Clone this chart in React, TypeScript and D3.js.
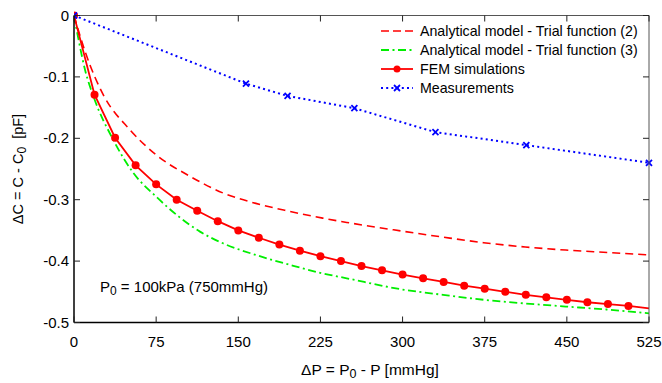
import React from "react";
import * as d3 from "d3";

const xTicks = [0, 75, 150, 225, 300, 375, 450, 525];
const yTicks = [0, -0.1, -0.2, -0.3, -0.4, -0.5];
const yTickLabels = ["0", "-0.1", "-0.2", "-0.3", "-0.4", "-0.5"];

// Analytical model - Trial function (2)
const trial2X = [0, 5, 10, 19, 27, 51, 75, 106, 136, 166, 197, 227, 249, 299, 337, 374, 412, 449, 487, 525];
const trial2Y = [0, -0.03, -0.058, -0.1, -0.13, -0.186, -0.227, -0.262, -0.289, -0.306, -0.319, -0.33, -0.337, -0.351, -0.361, -0.37, -0.377, -0.382, -0.386, -0.39];

// Analytical model - Trial function (3)
const trial3X = [0, 5, 10, 18, 36, 54, 75, 96, 115, 136, 166, 197, 227, 249, 299, 337, 374, 412, 449, 487, 525];
const trial3Y = [0, -0.047, -0.088, -0.133, -0.203, -0.256, -0.295, -0.328, -0.352, -0.371, -0.39, -0.406, -0.42, -0.428, -0.446, -0.455, -0.463, -0.469, -0.474, -0.479, -0.485];

// FEM simulations (markers at 18.75 mmHg steps)
const femX = [0, 18.75, 37.5, 56.25, 75, 93.75, 112.5, 131.25, 150, 168.75, 187.5, 206.25, 225, 243.75, 262.5, 281.25, 300, 318.75, 337.5, 356.25, 375, 393.75, 412.5, 431.25, 450, 468.75, 487.5, 506.25];
const femY = [0, -0.129, -0.199, -0.244, -0.275, -0.3, -0.318, -0.335, -0.35, -0.362, -0.373, -0.383, -0.392, -0.4, -0.408, -0.415, -0.422, -0.428, -0.434, -0.44, -0.445, -0.45, -0.455, -0.459, -0.463, -0.467, -0.47, -0.473];
const femEndX = 525;
const femEndY = -0.477;

// Measurements
const measX = [0, 157, 195, 256, 330, 413, 525];
const measY = [0, -0.111, -0.131, -0.151, -0.19, -0.211, -0.24];

const legendLabels = [
  "Analytical model - Trial function (2)",
  "Analytical model - Trial function (3)",
  "FEM simulations",
  "Measurements",
];

const W = 662;
const H = 383;
const left = 74;
const right = 649;
const top = 15.5;
const bottom = 322.5;
const FONT = "'Liberation Sans', Arial, Helvetica, sans-serif";

export default function App() {
  const x = d3.scaleLinear().domain([0, 525]).range([left, right]);
  const y = d3.scaleLinear().domain([-0.5, 0]).range([bottom, top]);

  const line = d3
    .line<[number, number]>()
    .x((d) => x(d[0]))
    .y((d) => y(d[1]))
    .curve(d3.curveMonotoneX);
  const lineStraight = d3
    .line<[number, number]>()
    .x((d) => x(d[0]))
    .y((d) => y(d[1]));

  const t2 = trial2X.map((v, i) => [v, trial2Y[i]] as [number, number]);
  const t3 = trial3X.map((v, i) => [v, trial3Y[i]] as [number, number]);
  const fem = femX.map((v, i) => [v, femY[i]] as [number, number]);
  const femLine = [...fem, [femEndX, femEndY] as [number, number]];
  const meas = measX.map((v, i) => [v, measY[i]] as [number, number]);

  const tickLen = 6;
  const red = "#ff0000";
  const green = "#00ee00";
  const blue = "#0000ff";

  const legX1 = 381;
  const legX2 = 413;
  const legTextX = 420;
  const legRows = [31, 50, 69, 88];

  return (
    <svg
      width={W}
      height={H}
      style={{ position: "absolute", left: 0, top: 0, background: "#fff" }}
      fontFamily={FONT}
    >
      <rect x={0} y={0} width={W} height={H} fill="#fff" />
      <defs>
        <clipPath id="plotclip">
          <rect x={left} y={top - 6} width={right - left + 6} height={bottom - top + 6} />
        </clipPath>
      </defs>

      {/* data */}
      <g clipPath="url(#plotclip)">
        <path d={line(t3) || ""} fill="none" stroke={green} strokeWidth={1.8} strokeDasharray="8,3.5,2,3.5" />
        <path d={line(t2) || ""} fill="none" stroke={red} strokeWidth={1.6} strokeDasharray="8,5" />
        <path d={lineStraight(femLine) || ""} fill="none" stroke={red} strokeWidth={1.8} />
        {fem.map((d, i) => (
          <circle key={i} cx={x(d[0])} cy={y(d[1])} r={4} fill={red} />
        ))}
        <path d={lineStraight(meas) || ""} fill="none" stroke={blue} strokeWidth={2} strokeDasharray="2,3.2" />
        {meas.map((d, i) => {
          const cx = x(d[0]);
          const cy = y(d[1]);
          const s = 3;
          return (
            <g key={i} stroke={blue} strokeWidth={1.8}>
              <line x1={cx - s} y1={cy - s} x2={cx + s} y2={cy + s} />
              <line x1={cx - s} y1={cy + s} x2={cx + s} y2={cy - s} />
            </g>
          );
        })}
      </g>

      {/* axes box */}
      <g stroke="#222" strokeWidth={1} fill="none">
        <line x1={left} y1={top} x2={right} y2={top} stroke="#555" />
        <line x1={right} y1={top} x2={right} y2={bottom} stroke="#555" />
        <line x1={left} y1={bottom} x2={right} y2={bottom} stroke="#000" strokeWidth={1.5} />
        <line x1={left} y1={top} x2={left} y2={bottom} stroke="#000" strokeWidth={1.5} />
        {xTicks.map((t, i) => (
          <g key={i}>
            <line x1={x(t)} x2={x(t)} y1={bottom} y2={bottom - tickLen} />
            <line x1={x(t)} x2={x(t)} y1={top} y2={top + tickLen} />
          </g>
        ))}
        {yTicks.map((t, i) => (
          <g key={i}>
            <line x1={left} x2={left + tickLen} y1={y(t)} y2={y(t)} />
            <line x1={right} x2={right - tickLen} y1={y(t)} y2={y(t)} />
          </g>
        ))}
      </g>

      {/* tick labels */}
      <g fontSize={15} fill="#000">
        {xTicks.map((t, i) => (
          <text key={i} x={x(t)} y={347} textAnchor="middle">
            {String(t)}
          </text>
        ))}
        {yTicks.map((t, i) => (
          <text key={i} x={69} y={y(t) + 5} textAnchor="end">
            {yTickLabels[i]}
          </text>
        ))}
      </g>

      {/* axis titles */}
      <text x={370} y={375} fontSize={15.5} textAnchor="middle" fill="#000">
        ΔP = P<tspan fontSize={12.5} dy={3}>0</tspan>
        <tspan dy={-3}> - P [mmHg]</tspan>
      </text>
      <text
        transform={`translate(23, ${(top + bottom) / 2}) rotate(-90)`}
        fontSize={14.5}
        textAnchor="middle"
        fill="#000"
      >
        ΔC = C - C<tspan fontSize={12} dy={3}>0</tspan>
        <tspan dy={-3} xmlSpace="preserve">  [pF]</tspan>
      </text>

      {/* annotation */}
      <text x={100} y={292} fontSize={15} fill="#000">
        P<tspan fontSize={12} dy={3}>0</tspan>
        <tspan dy={-3}> = 100kPa (750mmHg)</tspan>
      </text>

      {/* legend */}
      <g fontSize={14.2} fill="#000">
        <line x1={legX1} x2={legX2} y1={legRows[0]} y2={legRows[0]} stroke={red} strokeWidth={1.6} strokeDasharray="8,4" />
        <line x1={legX1} x2={legX2} y1={legRows[1]} y2={legRows[1]} stroke={green} strokeWidth={1.8} strokeDasharray="8,3.5,2,3.5" />
        <line x1={legX1} x2={legX2} y1={legRows[2]} y2={legRows[2]} stroke={red} strokeWidth={1.8} />
        <circle cx={(legX1 + legX2) / 2} cy={legRows[2]} r={3.5} fill={red} />
        <line x1={legX1} x2={legX2} y1={legRows[3]} y2={legRows[3]} stroke={blue} strokeWidth={2} strokeDasharray="2,3.2" />
        <g stroke={blue} strokeWidth={1.8}>
          <line x1={397 - 3} y1={legRows[3] - 3} x2={397 + 3} y2={legRows[3] + 3} />
          <line x1={397 - 3} y1={legRows[3] + 3} x2={397 + 3} y2={legRows[3] - 3} />
        </g>
        {legendLabels.map((l, i) => (
          <text key={i} x={legTextX} y={legRows[i] + 5}>
            {l}
          </text>
        ))}
      </g>
    </svg>
  );
}
